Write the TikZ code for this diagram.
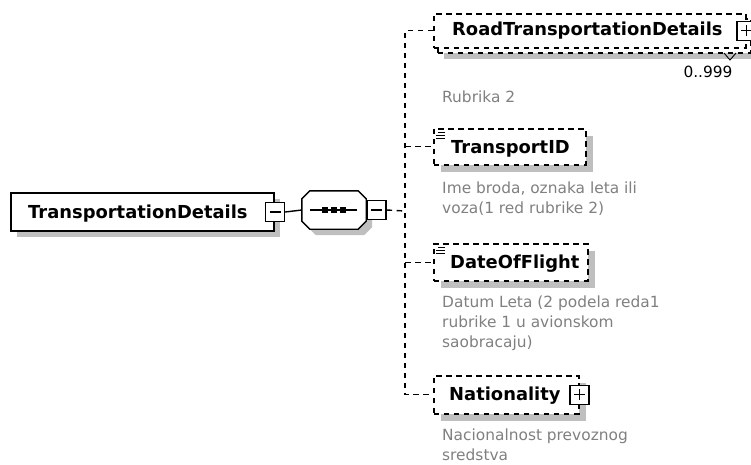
\documentclass[tikz,border=0pt]{standalone}
\usepackage{fontspec}
\setmainfont{DejaVu Sans}
\usetikzlibrary{shadows}
\tikzset{
    el_text/.style={anchor=base west, inner sep=0pt, font=\bfseries\fontsize{17.9}{20}\selectfont},
    doc_text/.style={anchor=north west, inner sep=0pt, align=left, text=black!50, font=\fontsize{15.4}{20}\selectfont},
    el_shadow/.style={general shadow={fill=black!25, shadow xshift=#1, shadow yshift=-#1}},
    base_box/.style={rectangle, anchor=north west, inner sep=0pt, fill=white, draw=black, line width=1.4pt},
    root_box/.style={base_box, line width=2pt, el_shadow=6pt},
    opt_plain/.style={base_box, line width=1.5pt, dash pattern=on 5.5pt off 4.5pt},
    opt_box/.style={opt_plain, el_shadow=7pt},
    back_box/.style={opt_plain, el_shadow=6pt},
    seq_area/.style={rectangle, inner sep=0pt, minimum width=64pt, minimum height=38pt},
    oct_path/.style={insert path={
        ([xshift=8pt]#1.north west) -- ([xshift=-8pt]#1.north east) -- ([yshift=-8pt]#1.north east)
        -- ([yshift=8pt]#1.south east) -- ([xshift=-8pt]#1.south east) -- ([xshift=8pt]#1.south west)
        -- ([yshift=8pt]#1.south west) -- ([yshift=-8pt]#1.north west) -- cycle}},
    exp_box/.style={rectangle, draw=black, line width=1.4pt, fill=white, minimum size=19pt, inner sep=0pt},
    exp_minus/.style={exp_box, path picture={
        \draw[line width=1.3pt] ([xshift=4pt]path picture bounding box.west) -- ([xshift=-4pt]path picture bounding box.east);}},
    exp_plus/.style={exp_box, path picture={
        \draw[line width=1.3pt] ([xshift=4pt]path picture bounding box.west) -- ([xshift=-4pt]path picture bounding box.east);
        \draw[line width=1.3pt] ([yshift=-4pt]path picture bounding box.north) -- ([yshift=4pt]path picture bounding box.south);}},
    link_line/.style={draw=black, line width=1.4pt},
    opt_line/.style={link_line, dash pattern=on 5.5pt off 4.5pt},
    icon_line/.style={draw=black, line width=0.9pt}
}

\begin{document}
\begin{tikzpicture}[x=1pt, y=-1pt]
    \useasboundingbox (0,0) rectangle (751,464);
    % root element
    \node[root_box, minimum width=263pt, minimum height=38pt] (root) at (10,192) {};
    \node[el_text] (root_txt) at (28,218) {TransportationDetails};
    \node[exp_minus] (root_min) at (root.east) {};
    % sequence
    \node[seq_area] (seq) at (334,210) {};
    \path[oct_path=seq, fill=black!25, transform canvas={xshift=6pt, yshift=-6pt}];
    \draw[link_line, fill=white, oct_path=seq];
    \draw[link_line] ([xshift=-24pt]seq.center) -- ([xshift=23pt]seq.center);
    \foreach \dx in {-9,0,9}
        \fill ([xshift=\dx pt]seq.center) +(-2.6,-2.6) rectangle +(2.6,2.6);
    \node[exp_minus, anchor=west] (seq_min) at (seq.east) {};
    \draw[link_line] (root_min.east) -- (seq.west);
    \coordinate (bus) at (405,211);
    \draw[opt_line] (seq_min.east) -- (bus);
    % children
    \node[back_box, minimum width=313pt, minimum height=34pt] (road_back) at (437,18) {};
    \node[opt_plain, minimum width=312pt, minimum height=34pt] (road) at (433,13) {};
    \node[el_text] (road_txt) at (452,35) {RoadTransportationDetails};
    \node[exp_plus] (road_plus) at (road.east) {};
    \draw[icon_line] (724,53) -- (730,60) -- (736,53);
    \node[anchor=center, inner sep=0pt, font=\fontsize{15.4}{18}\selectfont] (road_occ) at (708,72) {0..999};
    \node[doc_text] (road_doc) at (442,91) {Rubrika 2};

    \node[opt_box, minimum width=152pt, minimum height=36pt] (tid) at (433,128) {};
    \node[el_text] (tid_txt) at (451,153) {TransportID};
    \node[doc_text] (tid_doc) at (442,182) {Ime broda, oznaka leta ili\\voza(1 red rubrike 2)};

    \node[opt_box, minimum width=154pt, minimum height=37pt] (dof) at (433,243) {};
    \node[el_text] (dof_txt) at (450,268) {DateOfFlight};
    \node[doc_text] (dof_doc) at (442,296) {Datum Leta (2 podela reda1\\rubrike 1 u avionskom\\saobracaju)};

    \node[opt_box, minimum width=145pt, minimum height=38pt] (nat) at (433,375) {};
    \node[el_text] (nat_txt) at (449,400) {Nationality};
    \node[exp_plus] (nat_plus) at (nat.east) {};
    \node[doc_text] (nat_doc) at (442,429) {Nacionalnost prevoznog\\sredstva};

    % simple type marks
    \foreach \n in {tid, dof} {
        \draw[icon_line] ([xshift=5pt, yshift=-4.5pt]\n.north west) -- ++(7,0);
        \draw[icon_line] ([xshift=3pt, yshift=-7.5pt]\n.north west) -- ++(9,0);
        \draw[icon_line] ([xshift=3pt, yshift=-10.5pt]\n.north west) -- ++(9,0);
    }
    % connectors
    \draw[opt_line] (road.west) -| (bus) |- (nat.west);
    \draw[opt_line] (bus |- tid.west) -- (tid.west);
    \draw[opt_line] (bus |- dof.west) -- (dof.west);
\end{tikzpicture}
\end{document}
